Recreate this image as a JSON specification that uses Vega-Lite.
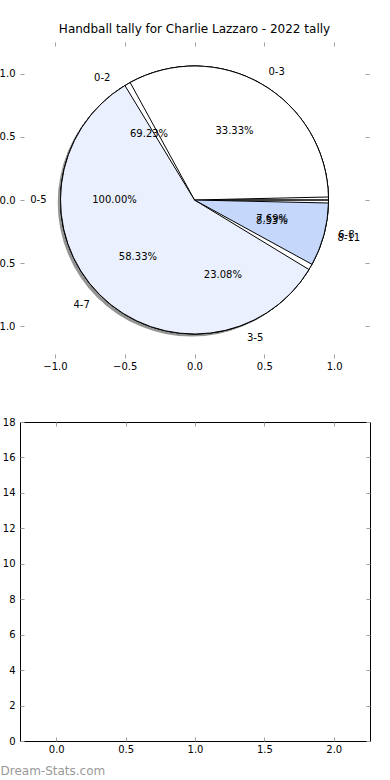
{
  "$schema": "https://vega.github.io/schema/vega-lite/v6.json",
  "background": "white",
  "padding": {"left": -10, "top": 22, "right": 0, "bottom": 0},
  "spacing": 45,
  "config": {
    "font": "DejaVu Sans",
    "axis": {"domain": false, "grid": false, "labelFont": "DejaVu Sans", "labelFontSize": 10, "labelColor": "#000000", "tickColor": "#a0a0a0", "tickSize": -4, "tickWidth": 1, "labelPadding": 9, "labelOverlap": false, "labelFlush": false, "title": null},
    "axisX": {"labelPadding": 7},
    "title": {"font": "DejaVu Sans", "fontSize": 12, "fontWeight": "normal", "color": "#000000"},
    "text": {"font": "DejaVu Sans", "fontSize": 10, "color": "#000000"}
  },
  "datasets": {
    "slices": [
      {"pie": "A", "k": 0, "label": "0-3", "share": 0.3333},
      {"pie": "A", "k": 1, "label": "4-7", "share": 0.5833},
      {"pie": "A", "k": 2, "label": "8-11", "share": 0.0833},
      {"pie": "B", "k": 0, "label": "0-2", "share": 0.6923},
      {"pie": "B", "k": 1, "label": "3-5", "share": 0.2308},
      {"pie": "B", "k": 2, "label": "6-8", "share": 0.0769},
      {"pie": "C", "k": 0, "label": "0-5", "share": 1.0}
    ],
    "bins": [
      {"slot": 0, "count": 0},
      {"slot": 1, "count": 0},
      {"slot": 2, "count": 0}
    ]
  },
  "vconcat": [
    {
      "width": 349,
      "height": 316,
      "view": {"stroke": null},
      "title": {"text": "Handball tally for Charlie Lazzaro - 2022 tally", "offset": 6},
      "data": {"name": "slices"},
      "layer": [
        {
          "transform": [{"filter": "datum.pie === 'C'"}],
          "mark": {"type": "arc", "radius": 134, "fill": "#3c3c3c", "opacity": 0.55},
          "encoding": {
            "x": {"datum": -0.02, "type": "quantitative", "scale": {"domain": [-1.25, 1.25], "nice": false, "zero": false}, "axis": {"orient": "bottom", "values": [-1, -0.5, 0, 0.5, 1], "format": ".1f"}},
            "y": {"datum": -0.02, "type": "quantitative", "scale": {"domain": [-1.25, 1.25], "nice": false, "zero": false}, "axis": {"orient": "left", "values": [-1, -0.5, 0, 0.5, 1], "format": ".1f"}},
            "theta": {"field": "share", "type": "quantitative", "stack": "normalize", "scale": {"range": [1.5707963, -4.712389]}}
          }
        },
        {
          "transform": [{"filter": "datum.pie === 'B'"}],
          "mark": {"type": "arc", "radius": 134, "stroke": "#000000", "strokeWidth": 1},
          "encoding": {
            "x": {"datum": 0, "type": "quantitative", "axis": {"orient": "top", "labels": false, "values": [-1, -0.5, 0, 0.5, 1]}},
            "y": {"datum": 0, "type": "quantitative", "axis": {"orient": "right", "labels": false, "values": [-1, -0.5, 0, 0.5, 1]}},
            "theta": {"field": "share", "type": "quantitative", "stack": "normalize"},
            "order": {"field": "k", "type": "quantitative"},
            "color": {"field": "k", "type": "nominal", "scale": {"domain": [0, 1, 2], "range": ["#ffffff", "#eaf0fd", "#c5d8fb"]}, "legend": null}
          }
        },
        {
          "transform": [{"filter": "datum.pie === 'C'"}],
          "mark": {"type": "arc", "radius": 134, "stroke": "#000000", "strokeWidth": 1},
          "encoding": {
            "x": {"datum": 0, "type": "quantitative", "axis": null},
            "y": {"datum": 0, "type": "quantitative", "axis": null},
            "theta": {"field": "share", "type": "quantitative", "stack": "normalize"},
            "order": {"field": "k", "type": "quantitative"},
            "color": {"field": "k", "type": "nominal", "legend": null}
          }
        },
        {
          "transform": [{"filter": "datum.pie === 'A'"}],
          "mark": {"type": "arc", "radius": 134, "stroke": "#000000", "strokeWidth": 1, "padAngle": 0.045},
          "encoding": {
            "x": {"datum": 0, "type": "quantitative", "axis": null},
            "y": {"datum": 0, "type": "quantitative", "axis": null},
            "theta": {"field": "share", "type": "quantitative", "stack": "normalize"},
            "order": {"field": "k", "type": "quantitative"},
            "color": {"field": "k", "type": "nominal", "legend": null}
          }
        },
        {
          "transform": [{"filter": "datum.pie === 'A'"}],
          "mark": {"type": "text", "radius": 148, "baseline": "middle", "align": {"expr": "cos(PI * (datum.share_start + datum.share_end)) >= 0 ? 'left' : 'right'"}},
          "encoding": {
            "x": {"datum": 0, "type": "quantitative", "axis": null},
            "y": {"datum": 0, "type": "quantitative", "axis": null},
            "theta": {"field": "share", "type": "quantitative", "stack": "normalize"},
            "order": {"field": "k", "type": "quantitative"},
            "text": {"field": "label", "type": "nominal"}
          }
        },
        {
          "transform": [{"filter": "datum.pie === 'B'"}],
          "mark": {"type": "text", "radius": 148, "baseline": "middle", "align": {"expr": "cos(PI * (datum.share_start + datum.share_end)) >= 0 ? 'left' : 'right'"}},
          "encoding": {
            "x": {"datum": 0, "type": "quantitative", "axis": null},
            "y": {"datum": 0, "type": "quantitative", "axis": null},
            "theta": {"field": "share", "type": "quantitative", "stack": "normalize"},
            "order": {"field": "k", "type": "quantitative"},
            "text": {"field": "label", "type": "nominal"}
          }
        },
        {
          "transform": [{"filter": "datum.pie === 'C'"}],
          "mark": {"type": "text", "radius": 148, "baseline": "middle", "align": {"expr": "cos(PI * (datum.share_start + datum.share_end)) >= 0 ? 'left' : 'right'"}},
          "encoding": {
            "x": {"datum": 0, "type": "quantitative", "axis": null},
            "y": {"datum": 0, "type": "quantitative", "axis": null},
            "theta": {"field": "share", "type": "quantitative", "stack": "normalize"},
            "order": {"field": "k", "type": "quantitative"},
            "text": {"field": "label", "type": "nominal"}
          }
        },
        {
          "transform": [{"filter": "datum.pie === 'A'"}],
          "mark": {"type": "text", "radius": 80, "baseline": "middle", "align": "center"},
          "encoding": {
            "x": {"datum": 0, "type": "quantitative", "axis": null},
            "y": {"datum": 0, "type": "quantitative", "axis": null},
            "theta": {"field": "share", "type": "quantitative", "stack": "normalize"},
            "order": {"field": "k", "type": "quantitative"},
            "text": {"field": "share", "type": "quantitative", "format": ".2%"}
          }
        },
        {
          "transform": [{"filter": "datum.pie === 'B'"}],
          "mark": {"type": "text", "radius": 80, "baseline": "middle", "align": "center"},
          "encoding": {
            "x": {"datum": 0, "type": "quantitative", "axis": null},
            "y": {"datum": 0, "type": "quantitative", "axis": null},
            "theta": {"field": "share", "type": "quantitative", "stack": "normalize"},
            "order": {"field": "k", "type": "quantitative"},
            "text": {"field": "share", "type": "quantitative", "format": ".2%"}
          }
        },
        {
          "transform": [{"filter": "datum.pie === 'C'"}],
          "mark": {"type": "text", "radius": 80, "baseline": "middle", "align": "center"},
          "encoding": {
            "x": {"datum": 0, "type": "quantitative", "axis": null},
            "y": {"datum": 0, "type": "quantitative", "axis": null},
            "theta": {"field": "share", "type": "quantitative", "stack": "normalize"},
            "order": {"field": "k", "type": "quantitative"},
            "text": {"field": "share", "type": "quantitative", "format": ".2%"}
          }
        }
      ]
    },
    {
      "width": 350,
      "height": 319,
      "view": {"stroke": "#000000", "strokeWidth": 1},
      "data": {"name": "bins"},
      "layer": [
        {
          "mark": {"type": "bar", "size": 20},
          "encoding": {
            "x": {"field": "slot", "type": "quantitative", "scale": {"domain": [-0.225, 2.225], "nice": false, "zero": false}, "axis": {"orient": "bottom", "values": [0, 0.5, 1, 1.5, 2], "format": ".1f", "title": "Dream-Stats.com", "titleFont": "DejaVu Sans", "titleFontSize": 12, "titleFontWeight": "normal", "titleColor": "#999999", "titleAlign": "left", "titleAnchor": "start", "titleX": -20, "titleY": 33, "titleBaseline": "alphabetic"}},
            "y": {"field": "count", "type": "quantitative", "scale": {"domain": [0, 18], "nice": false}, "axis": {"orient": "left", "values": [0, 2, 4, 6, 8, 10, 12, 14, 16, 18], "format": "d"}}
          }
        },
        {
          "mark": {"type": "bar", "size": 20, "opacity": 0},
          "encoding": {
            "x": {"field": "slot", "type": "quantitative", "axis": {"orient": "top", "labels": false, "values": [0, 0.5, 1, 1.5, 2]}},
            "y": {"field": "count", "type": "quantitative", "axis": {"orient": "right", "labels": false, "values": [0, 2, 4, 6, 8, 10, 12, 14, 16, 18]}}
          }
        }
      ]
    }
  ]
}
